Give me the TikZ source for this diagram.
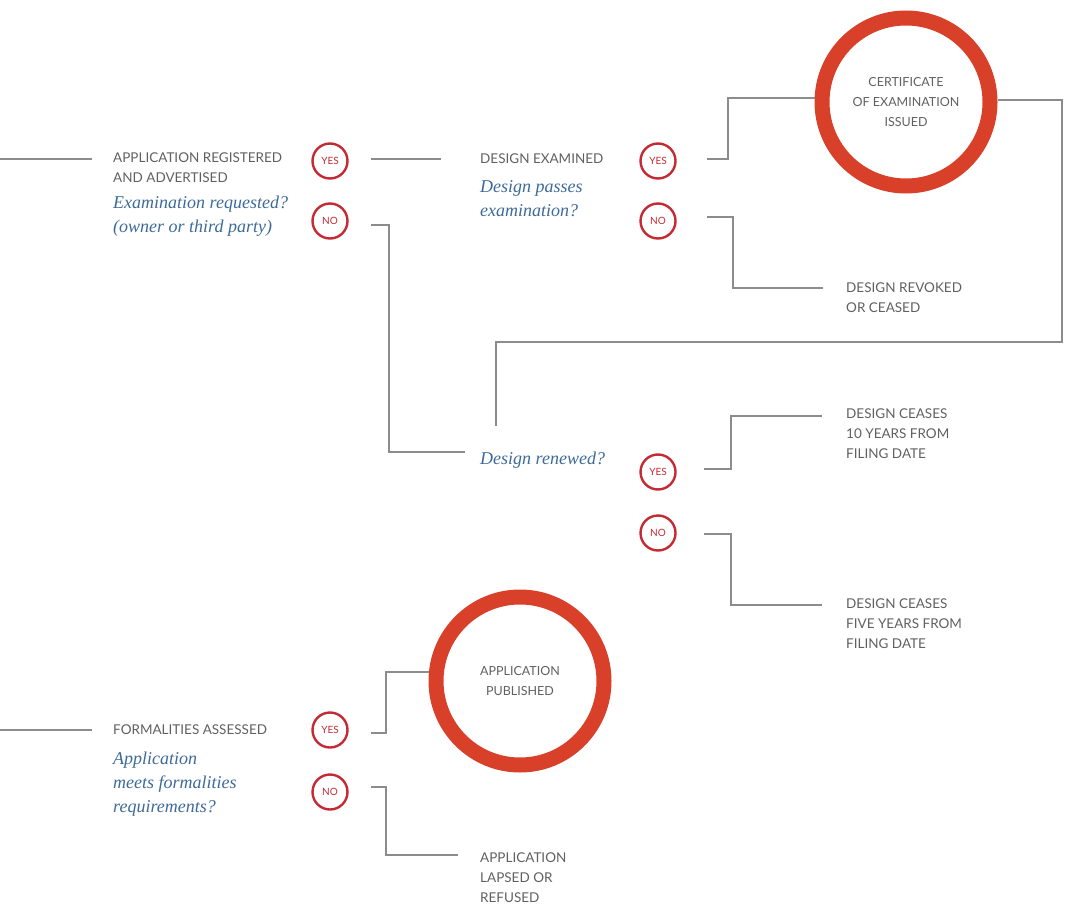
\documentclass[tikz,border=0pt]{standalone}
\usepackage{fontspec}
\setmainfont{Liberation Serif}
\newfontfamily\lblfont{Lato}
\usetikzlibrary{calc}
\definecolor{ringred}{HTML}{D8402A}
\definecolor{yesred}{HTML}{C42A33}
\definecolor{linegray}{HTML}{8C8C8C}
\definecolor{txtgray}{HTML}{606060}
\definecolor{qblue}{HTML}{3D6A98}
\tikzset{
  conn/.style={draw=linegray, line width=1.1pt},
  lbl/.style={anchor=west, inner sep=0pt, text=txtgray, font=\lblfont\fontsize{13.5}{20}\selectfont, align=left},
  ques/.style={anchor=west, inner sep=0pt, text=qblue, font=\itshape\fontsize{18}{24}\selectfont, align=left},
  yn/.style={circle, draw=yesred, line width=2.4pt, minimum size=35pt, inner sep=0pt, text=yesred, font=\lblfont\fontsize{10}{10}\selectfont},
  bigring/.style={circle, draw=ringred, line width=15pt, minimum size=168pt, inner sep=0pt, text=txtgray, font=\lblfont\fontsize{12.5}{20}\selectfont, align=center},
}
\begin{document}
\begin{tikzpicture}[x=1pt,y=-1pt]
\useasboundingbox (0,0) rectangle (1065,904);
% ---- top row
\coordinate (s1) at (0,159);
\node[lbl] (reg) at (113,168) {APPLICATION REGISTERED\\AND ADVERTISED};
\node[ques] (regq) at (113,216) {Examination requested?\\(owner or third party)};
\node[yn] (y1) at (330,161) {YES};
\node[yn] (n1) at (330,221) {NO};
\node[lbl] (exam) at (480,159) {DESIGN EXAMINED};
\node[ques] (examq) at (480,199) {Design passes\\examination?};
\node[yn] (y2) at (658,161) {YES};
\node[yn] (n2) at (658,221) {NO};
\node[bigring] (cert) at (906,102) {CERTIFICATE\\OF EXAMINATION\\ISSUED};
\node[lbl] (rev) at (846,298) {DESIGN REVOKED\\OR CEASED};
% ---- middle
\node[ques] (ren) at (480,460) {Design renewed?};
\node[yn] (y3) at (658,472) {YES};
\node[yn] (n3) at (658,533) {NO};
\node[lbl] (ten) at (846,434) {DESIGN CEASES\\10 YEARS FROM\\FILING DATE};
\node[lbl] (five) at (846,624) {DESIGN CEASES\\FIVE YEARS FROM\\FILING DATE};
% ---- bottom
\coordinate (s2) at (0,730);
\node[lbl] (form) at (113,730) {FORMALITIES ASSESSED};
\node[ques] (formq) at (113,784) {Application\\meets formalities\\requirements?};
\node[yn] (y4) at (330,730) {YES};
\node[yn] (n4) at (330,792) {NO};
\node[bigring] (pub) at (520,681) {APPLICATION\\PUBLISHED};
\node[lbl] (lapse) at (480,878) {APPLICATION\\LAPSED OR\\REFUSED};
% ---- connectors
\draw[conn] (s1) -- (92,159);
\draw[conn] ($(y1.east)+(22,-2)$) -- ($(exam.west)+(-39,0)$);
\draw[conn] ($(n1.east)+(22,4)$) -- (389,225) -- (389,452) -- ($(ren.west)+(-15,-8)$);
\draw[conn] ($(y2.east)+(30,-2)$) -- (728,159) -- (728,98) -- (cert.west |- 0,98);
\draw[conn] ($(n2.east)+(30,-4)$) -- (733,217) -- (733,288) -- ($(rev.west)+(-23,-10)$);
\draw[conn] (cert.east |- 0,100) -- (1062,100) -- (1062,342) -- (496,342) -- ($(ren.west)+(16,-34)$);
\draw[conn] ($(y3.east)+(27,-3)$) -- (731,469) -- (731,416) -- ($(ten.west)+(-24,-18)$);
\draw[conn] ($(n3.east)+(27,1)$) -- (731,534) -- (731,605) -- ($(five.west)+(-24,-19)$);
\draw[conn] (s2) -- (92,730);
\draw[conn] ($(y4.east)+(22,3)$) -- (386,733) -- (386,672) -- (pub.west |- 0,672);
\draw[conn] ($(n4.east)+(22,-5)$) -- (386,787) -- (386,855) -- ($(lapse.west)+(-22,-23)$);
\end{tikzpicture}
\end{document}
